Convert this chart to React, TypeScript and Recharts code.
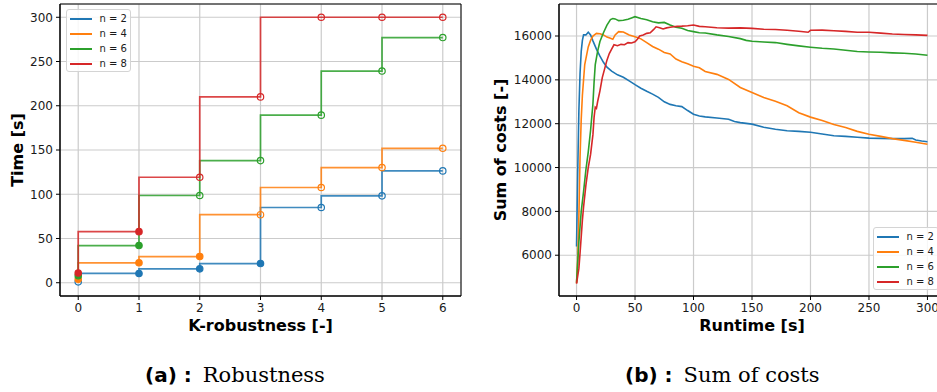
import React from 'react';
import {
  LineChart,
  Line,
  XAxis,
  YAxis,
  CartesianGrid,
  Legend,
  ReferenceArea,
} from 'recharts';

// (a) robustness: time per k for each agent count
const kValues = [0, 1, 2, 3, 4, 5, 6];
const timeN2 = [1, 10.5, 15.7, 21.7, 85, 98.2, 126.4];
const timeN4 = [4, 22.5, 29.6, 76.9, 107.6, 130.1, 151.9];
const timeN6 = [8, 42, 98.6, 138, 189.4, 239.2, 277.1];
const timeN8 = [11, 57.7, 119.2, 210, 300, 300, 300];
// filled marker = solved within the limit
const solvedN2 = [false, true, true, true, false, false, false];
const solvedN4 = [true, true, true, false, false, false, false];
const solvedN6 = [true, true, false, false, false, false, false];
const solvedN8 = [true, true, false, false, false, false, false];

// (b) sum of costs over runtime
const runtimeN2 = [0, 1, 2, 3, 4, 5, 6, 8, 10, 12, 14, 17, 20, 23, 26, 30, 35, 40, 45, 50, 55, 60, 65, 70, 75, 80, 85, 90, 95, 100, 105, 110, 120, 130, 135, 140, 150, 160, 170, 180, 190, 200, 210, 220, 230, 240, 250, 260, 270, 280, 287, 290, 295, 300];
const costN2 = [6400, 9800, 12600, 14300, 15300, 15800, 16050, 16050, 16170, 16050, 15780, 15400, 15080, 14800, 14580, 14400, 14230, 14120, 13950, 13780, 13620, 13480, 13350, 13200, 13000, 12880, 12820, 12780, 12600, 12430, 12350, 12310, 12260, 12200, 12100, 12050, 11980, 11840, 11750, 11680, 11650, 11610, 11530, 11450, 11420, 11380, 11340, 11330, 11320, 11320, 11330, 11260, 11210, 11180];

const runtimeN4 = [0, 1, 2, 3, 4, 5, 7, 10, 12, 14, 17, 20, 23, 26, 29, 31, 33, 36, 40, 45, 50, 55, 60, 65, 70, 75, 80, 85, 90, 95, 100, 105, 110, 120, 130, 140, 150, 160, 170, 180, 190, 200, 210, 220, 230, 240, 250, 260, 270, 280, 290, 300];
const costN4 = [4720, 5800, 7800, 10500, 12200, 13300, 14700, 15500, 15800, 16000, 16120, 16100, 16050, 15950, 15900, 15850, 16050, 16200, 16180, 16050, 15970, 15870, 15700, 15520, 15400, 15250, 15180, 14950, 14830, 14730, 14620, 14550, 14380, 14250, 14020, 13650, 13420, 13200, 13020, 12820, 12500, 12300, 12150, 11960, 11830, 11650, 11520, 11420, 11320, 11240, 11150, 11060];

const runtimeN6 = [0, 2, 4, 6, 8, 10, 12, 14, 15, 16, 18, 20, 23, 26, 29, 31, 33, 36, 40, 44, 47, 50, 55, 60, 65, 70, 75, 80, 85, 90, 95, 100, 105, 110, 120, 130, 140, 145, 150, 160, 170, 180, 190, 200, 210, 220, 230, 240, 250, 260, 270, 280, 290, 300];
const costN6 = [4750, 6600, 8000, 8900, 9900, 10700, 11700, 12900, 13900, 14700, 15300, 15750, 16150, 16500, 16750, 16800, 16780, 16700, 16720, 16760, 16820, 16880, 16800, 16740, 16650, 16600, 16620, 16500, 16400, 16350, 16250, 16200, 16150, 16140, 16050, 15980, 15880, 15800, 15760, 15730, 15700, 15620, 15550, 15490, 15440, 15410, 15350, 15290, 15270, 15260, 15230, 15210, 15180, 15120];

const runtimeN8 = [0, 2, 3, 5, 6, 8, 10, 12, 14, 15, 16, 17, 18, 20, 22, 24, 26, 28, 30, 32, 35, 38, 41, 44, 47, 50, 52, 54, 57, 60, 63, 66, 68, 71, 74, 77, 80, 83, 86, 90, 95, 100, 105, 110, 120, 130, 140, 150, 160, 170, 180, 190, 198, 200, 210, 220, 230, 240, 250, 260, 270, 280, 290, 300];
const costN8 = [4700, 5400, 6100, 7600, 8200, 9200, 10000, 10600, 11500, 12300, 12750, 12700, 13000, 13500, 14100, 14500, 14900, 15200, 15400, 15600, 15560, 15620, 15600, 15700, 15680, 15740, 15850, 16000, 16050, 16120, 16150, 16300, 16420, 16380, 16320, 16370, 16400, 16420, 16440, 16450, 16470, 16500, 16440, 16420, 16380, 16360, 16370, 16350, 16310, 16300, 16260, 16220, 16170, 16260, 16270, 16240, 16210, 16170, 16170, 16130, 16090, 16070, 16050, 16030];

const seriesNames = ['n = 2', 'n = 4', 'n = 6', 'n = 8'];
const colors = ['#1f77b4', '#ff7f0e', '#2ca02c', '#d62728'];

const kTicks = [0, 1, 2, 3, 4, 5, 6];
const timeTicks = [0, 50, 100, 150, 200, 250, 300];
const runtimeTicks = [0, 50, 100, 150, 200, 250, 300];
const costTicks = [6000, 8000, 10000, 12000, 14000, 16000];

const kDomain = [-0.3, 6.3];
const timeDomain = [-15, 315];
const runtimeDomain = [-15, 315];
const costDomain = [4140, 17460];

const FONT = 'DejaVu Sans';
const tickStyle = { fill: '#1a1a1a', fontSize: 12, fontFamily: FONT };
const axisLabelStyle = { fontSize: 16, fontWeight: 'bold', fill: '#000', fontFamily: FONT, textAnchor: 'middle' as const };

const robustness = [timeN2, timeN4, timeN6, timeN8].map((times, s) => {
  const solved = [solvedN2, solvedN4, solvedN6, solvedN8][s];
  return kValues.map((k, i) => ({ k, time: times[i], solved: solved[i] }));
});

const costs = [
  [runtimeN2, costN2],
  [runtimeN4, costN4],
  [runtimeN6, costN6],
  [runtimeN8, costN8],
].map(([ts, cs]) => ts.map((t, i) => ({ t, cost: cs[i] })));

const LegendBox = ({ payload, boxWidth }: any) => (
  <div
    style={{
      width: boxWidth,
      height: 63,
      boxSizing: 'border-box',
      border: '1px solid #d4d4d4',
      borderRadius: 3,
      background: 'rgba(255,255,255,0.85)',
      paddingTop: 1,
      fontFamily: FONT,
      fontSize: 10,
      color: '#1a1a1a',
      overflow: 'hidden',
    }}
  >
    {(payload || []).map((p: any) => (
      <div key={p.value} style={{ height: 15, display: 'flex', alignItems: 'center' }}>
        <div style={{ marginLeft: 3, width: 22, height: 2, background: p.color }} />
        <span style={{ marginLeft: 7.5, whiteSpace: 'nowrap' }}>{p.value}</span>
      </div>
    ))}
  </div>
);

const makeDot = (color: string) => (props: any) => {
  const { cx, cy, index, payload } = props;
  if (cx == null || cy == null) return <g key={`d-${index}`} />;
  return (
    <circle
      key={`d-${index}`}
      cx={cx}
      cy={cy}
      r={3.2}
      fill={payload.solved ? color : 'none'}
      stroke={color}
      strokeWidth={1.2}
    />
  );
};

const RobustnessChart = () => (
  <LineChart width={470} height={340} margin={{ top: 4, right: 9, left: 0, bottom: 0 }}>
    <CartesianGrid stroke="#cbcbcb" strokeWidth={1.2} />
    <XAxis
      type="number"
      dataKey="k"
      domain={kDomain}
      ticks={kTicks}
      allowDataOverflow
      height={44}
      tick={tickStyle}
      tickSize={4}
      tickMargin={3}
      stroke="#000"
      label={{ value: 'K-robustness [-]', position: 'insideBottom', offset: 9, style: axisLabelStyle }}
    />
    <YAxis
      type="number"
      domain={timeDomain}
      ticks={timeTicks}
      allowDataOverflow
      width={60}
      tick={tickStyle}
      tickSize={4}
      tickMargin={3}
      stroke="#000"
      label={{ value: 'Time [s]', angle: -90, position: 'insideLeft', offset: 17, style: axisLabelStyle }}
    />
    <ReferenceArea x1={kDomain[0]} x2={kDomain[1]} y1={timeDomain[0]} y2={timeDomain[1]} fill="none" stroke="#000" strokeWidth={1} fillOpacity={0} />
    {robustness.map((data, s) => (
      <Line
        key={seriesNames[s]}
        data={data}
        dataKey="time"
        name={seriesNames[s]}
        type="stepBefore"
        stroke={colors[s]}
        strokeWidth={1.7}
        strokeOpacity={0.85}
        dot={makeDot(colors[s])}
        activeDot={false}
        isAnimationActive={false}
      />
    ))}
    <Legend
      layout="horizontal"
      verticalAlign="middle"
      content={<LegendBox boxWidth={65} />}
      wrapperStyle={{ left: 66, top: 9, width: 65, height: 63 }}
    />
  </LineChart>
);

const CostChart = () => (
  <LineChart width={490} height={340} margin={{ top: 4, right: 15, left: 0, bottom: 0 }}>
    <CartesianGrid stroke="#cbcbcb" strokeWidth={1.2} />
    <XAxis
      type="number"
      dataKey="t"
      domain={runtimeDomain}
      ticks={runtimeTicks}
      allowDataOverflow
      height={44}
      tick={tickStyle}
      tickSize={4}
      tickMargin={3}
      stroke="#000"
      label={{ value: 'Runtime [s]', position: 'insideBottom', offset: 9, style: axisLabelStyle }}
    />
    <YAxis
      type="number"
      domain={costDomain}
      ticks={costTicks}
      allowDataOverflow
      width={89}
      tick={tickStyle}
      tickSize={4}
      tickMargin={3}
      stroke="#000"
      label={{ value: 'Sum of costs [-]', angle: -90, position: 'insideLeft', offset: 30, style: axisLabelStyle }}
    />
    <ReferenceArea x1={runtimeDomain[0]} x2={runtimeDomain[1]} y1={costDomain[0]} y2={costDomain[1]} fill="none" stroke="#000" strokeWidth={1} fillOpacity={0} />
    {costs.map((data, s) => (
      <Line
        key={seriesNames[s]}
        data={data}
        dataKey="cost"
        name={seriesNames[s]}
        type="linear"
        stroke={colors[s]}
        strokeWidth={1.6}
        dot={false}
        activeDot={false}
        isAnimationActive={false}
      />
    ))}
    <Legend
      layout="horizontal"
      verticalAlign="middle"
      content={<LegendBox boxWidth={66} />}
      wrapperStyle={{ left: 403, top: 227, width: 66, height: 63 }}
    />
  </LineChart>
);

const Caption = ({ left, tag, text }: { left: number; tag: string; text: string }) => (
  <div style={{ position: 'absolute', left, top: 363, lineHeight: '24px', whiteSpace: 'nowrap', color: '#000' }}>
    <span style={{ fontFamily: FONT, fontWeight: 'bold', fontSize: 20 }}>{tag}</span>
    <span style={{ fontFamily: 'DejaVu Serif', fontSize: 21, marginLeft: 11 }}>{text}</span>
  </div>
);

export default function App() {
  return (
    <div style={{ position: 'absolute', left: 0, top: 0, width: 937, height: 392, overflow: 'hidden', background: '#fff' }}>
      <div style={{ position: 'absolute', left: 0, top: 0 }}>
        <RobustnessChart />
      </div>
      <div style={{ position: 'absolute', left: 470, top: 0 }}>
        <CostChart />
      </div>
      <Caption left={145} tag="(a) :" text="Robustness" />
      <Caption left={625} tag="(b) :" text="Sum of costs" />
    </div>
  );
}
